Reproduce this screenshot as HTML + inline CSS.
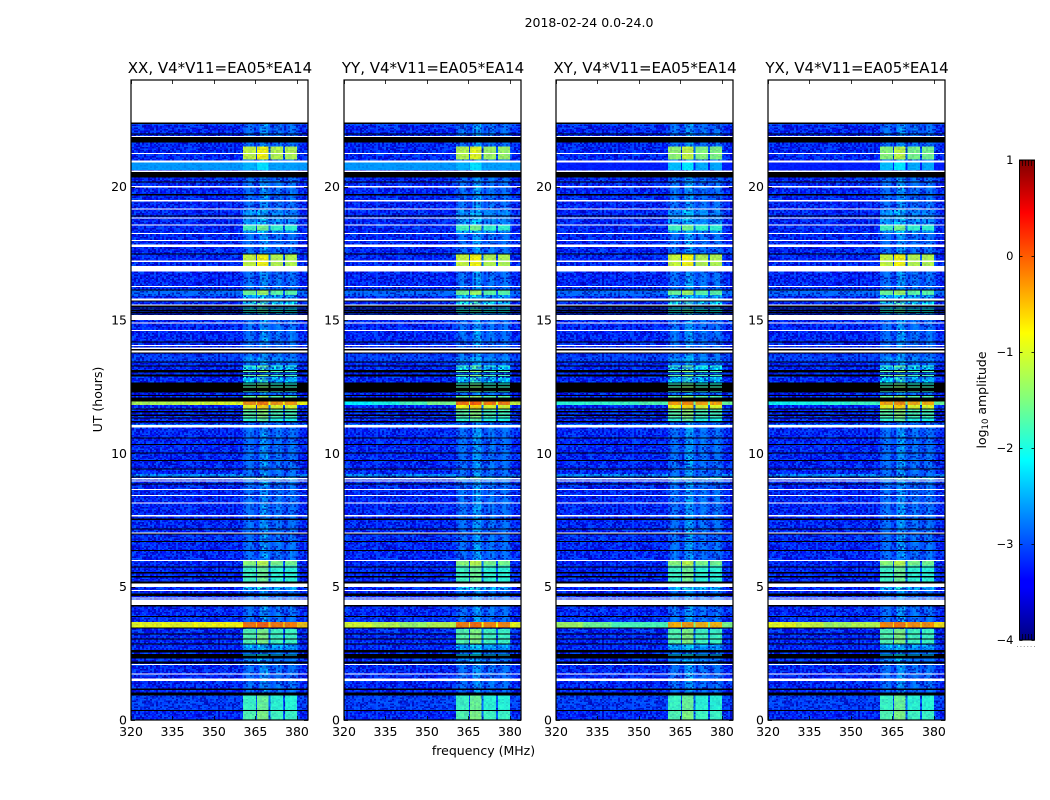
<!DOCTYPE html>
<html lang="en">
<head>
<meta charset="utf-8">
<title>2018-02-24 0.0-24.0</title>
<style>
html,body{margin:0;padding:0;background:#fff;width:1050px;height:800px;overflow:hidden}
svg{display:block}
text{font-family:"DejaVu Sans","Liberation Sans",sans-serif;fill:#000}
.tick{font-size:12.5px}
.title{font-size:15px}
</style>
</head>
<body>
<svg id="figure" xmlns="http://www.w3.org/2000/svg" width="1050" height="800" viewBox="0 0 1050 800">
  <defs>
    <linearGradient id="jet" x1="0" y1="1" x2="0" y2="0">
      <stop offset="0" stop-color="#00007f"/>
      <stop offset="0.11" stop-color="#0000ff"/>
      <stop offset="0.125" stop-color="#0000ff"/>
      <stop offset="0.375" stop-color="#00ffff"/>
      <stop offset="0.5" stop-color="#7fff7f"/>
      <stop offset="0.64" stop-color="#ffff00"/>
      <stop offset="0.89" stop-color="#ff0000"/>
      <stop offset="1" stop-color="#7f0000"/>
    </linearGradient>
    <pattern id="speckle-tile" patternUnits="userSpaceOnUse" width="128" height="72"></pattern>
  </defs>
  <text x="589" y="27" text-anchor="middle" font-size="12.5px">2018-02-24 0.0-24.0</text>
  <g id="panels"></g>
  <text x="483.5" y="755" text-anchor="middle" font-size="12.5px">frequency (MHz)</text>
  <text transform="translate(102,399.5) rotate(-90)" text-anchor="middle" font-size="12.5px">UT (hours)</text>
  <g id="colorbar"></g>
  <text transform="translate(986,400) rotate(-90)" text-anchor="middle" font-size="12.5px">log<tspan font-size="8.5px" dy="2">10</tspan><tspan dy="-2"> amplitude</tspan></text>
</svg>
<script>
// ---- chart data (log10 amplitude, UT hours, MHz) ----
const panelTitles = ['XX, V4*V11=EA05*EA14','YY, V4*V11=EA05*EA14','XY, V4*V11=EA05*EA14','YX, V4*V11=EA05*EA14'];
const freqTicks = [320,335,350,365,380];
const utTicks = [0,5,10,15,20];
const cbarTicks = [1,0,-1,-2,-3,-4];
const cbarMinorFractions = [0.2,0.4,0.6,0.8];
const spectralWindows = [[360.5,365.2],[365.5,369.8],[370.5,374.9],[375.6,380]];
const windowGain = [-0.12,0.12,-0.2,-0.22];
const quietFreq = [360.5,361.5,362.5,363.5,364.5,365.5,366.5,367.5,368.5,369.5,370.5,371.5,372.5,373.5,374.5,375.5,376.5,377.5,378.5,379.5,380.5];
const quietLevels = [-2.95,-2.8,-2.7,-2.8,-3.05,-3.15,-2.55,-2.42,-2.42,-2.8,-3.05,-2.85,-2.7,-2.7,-2.95,-3.05,-2.85,-2.7,-2.75,-2.95,-3.25];
const baseLevel = -3.27;
const dataTop = 22.4;
// shared row level changes: [UT top, UT bottom, log10 amplitude]
const baseBands = [[22.347,22.31,-2.95],[16.1,15.9,-2.8],[9.22,9.12,-2.5],[11.1,11.06,-2.6],[12.27,12.19,-3.5],[13.7,13.45,-3.1],[6.95,6.72,-3.2],[3.9,3.68,-3.2],[0.91,0.37,-3.1]];
const windowBands = [
  [19.12,18.92,-2.4],[18.885,18.547,-2.35],[18.547,18.347,-1.65],[18.347,18.26,-2.3],
  [17.46,17.02,-1.0],[16.097,15.93,-1.45],[15.93,15.8,-2.2],[15.685,15.585,-1.9],[15.47,15.2,-2.1],
  [13.25,13.12,-1.9],[13.6,13.45,-2.4],[12.87,12.65,-2.0],[12.15,12.1,-1.5],[11.81,11.69,-0.8],
  [11.648,11.585,-1.5],[11.523,11.46,-1.55],[11.398,11.335,-1.6],[11.298,11.21,-1.8],
  [9.12,9.0,-1.9],[5.96,5.8,-1.3],[5.8,5.19,-1.7],[4.99,4.87,-2.1],[3.42,2.87,-1.6],[2.83,2.62,-2.2],
  [2.3,2.19,-2.5],[0.91,0.37,-1.7],[0.336,0,-1.6]
];
// short bright window segments that survive inside low-amplitude rows
const windowDashes = [[15.4,15.37,-1.9],[15.33,15.31,-1.9],[13.29,13.26,-1.6],[13.08,13.05,-1.5],[12.93,12.9,-1.5],[12.62,12.59,-1.8],[12.5,12.47,-1.6],[12.34,12.31,-1.7],[2.45,2.42,-2.2]];
// per-panel RFI levels, index order XX, YY, XY, YX
const coolBandLevels = [-2.6,-2.6,-3.25,-3.25];
const coolBandWindow = [-2.35,-2.35,-2.3,-2.3];
const rfi21Levels = [-1.0,-1.1,-1.25,-1.3];
const broadbandFreq = [320,330,340,350,360.5];
const rfi12Base = [[-1.25,-1.2,-1.1,-1.0,-0.95],[-2.15,-2.0,-1.75,-1.5,-1.25],[-1.9,-1.85,-1.8,-1.7,-1.6],[-2.05,-2.0,-1.9,-1.8,-1.6]];
const rfi12Window = [-0.3,-0.15,-0.35,-0.4];
const rfi12Edge = [-0.9,-1.1,-1.6,-1.6];
const rfi3Base = [[-0.95,-0.95,-0.9,-0.85,-0.8],[-1.05,-1.2,-1.35,-1.2,-1.0],[-1.3,-1.55,-1.75,-1.75,-1.55],[-0.95,-1.1,-1.3,-1.2,-0.9]];
const rfi3Window = [-0.15,-0.2,-0.45,-0.25];
const rfi3Edge = [-0.6,-0.95,-1.5,-0.75];
// very low amplitude rows (under the colour scale, drawn black)
const lowRows = [[22.397,22.347],[21.997,21.96],[21.86,21.647],[20.547,20.347],[20.185,20.147],[19.722,19.672],[18.922,18.885],[17.497,17.46],[16.147,16.097],[15.735,15.685],[15.547,15.472],[15.43,15.4],[15.37,15.33],[15.31,15.27],[15.24,15.2],
 [14.186,14.148],[13.91,13.848],[13.773,13.748],[13.436,13.398],[13.298,13.248],[13.123,13.023],[12.96,12.873],[12.648,12.273],[12.186,12.148],[12.098,11.935],[11.686,11.648],[11.585,11.523],[11.46,11.398],[11.335,11.298],[11.21,11.148],[10.6,10.56],[10.348,10.31],[10.023,9.985],[9.748,9.71],[9.435,9.398],[9.123,9.085],[8.873,8.835],[7.56,7.5],
 [7.187,7.149],[6.987,6.949],[6.711,6.674],[6.374,6.336],[5.749,5.711],[5.549,5.499],[5.399,5.349],[5.186,5.124],[4.749,4.649],[4.311,4.249],[3.899,3.861],[3.461,3.424],[3.249,3.211],[3.061,3.024],[2.874,2.836],[2.624,2.524],[2.474,2.311],[2.186,2.124],[1.186,1.124],[1.036,0.911],[0.374,0.336]];
// flagged rows (no data, drawn white)
const flaggedRows = [[21.897,21.86],[21.26,21.22],[20.985,20.897],[20.597,20.547],[20.022,19.96],[19.497,19.435],[19.185,19.147],[18.835,18.797],[18.585,18.547],[18.26,18.222],[17.997,17.96],[17.835,17.735],[17.235,17.172],[17.022,16.81],[16.272,16.235],[15.797,15.735],[15.585,15.547],[15.185,14.997],[14.91,14.872],
 [14.623,14.585],[14.06,14.023],[13.96,13.91],[13.848,13.773],[11.06,10.96],[9.073,9.023],[8.973,8.935],[8.66,8.62],[8.435,8.398],[8.148,8.11],[7.686,7.623],
 [7.024,6.987],[5.999,5.96],[5.124,4.986],[4.874,4.836],[4.586,4.549],[4.524,4.31],[2.1,2.06],[1.749,1.71],[1.549,1.46]];
// hand-written speckle texture for receiver noise
const speckle = [5,-7,2,8,-3,-8,6,1,-5,9,-2,4,-9,3,7,-6,0,8,-4,5,-8,2,-1,9,-6,4,7,-3,-9,1,6,-5,8,-2,3,-7,9,0,-4,5,-8,7,-1,2,-6,8,-3,4,-9,6,1,-7,5,-2,9,-5,3,8,-8,0,4,-6,7,-3,2,9,-9,5,-1,6,-7,3,8,-4,1,-8,7,-2,5,-6,9,0,-3,4,-9,8,2,-5,6,-1,7,-7,3,-4,9,-8,1,5,-2,6,-6,8,4,-9,0,7,-3,2,-5,9,-1,6,-8,3,-7,5,8,-4,1,-2,7,-9,4,-6];

// ---- axes ----
const NS = 'http://www.w3.org/2000/svg';
const panelLeft = [131,344,556,768];
const axisWidth = 177, axisTop = 80, axisBottom = 720;
const faintWindowLimit = -1.8;
const freqToX = (f, left) => left + (f - 320) * axisWidth / 64;
const utToY = ut => axisBottom - ut * (axisBottom - axisTop) / 24;
const logToY = v => 640 - (v + 4) * 96;
function jet(log) {
  const v = (log + 4) / 5;
  const c = t => Math.round(255 * Math.max(0, Math.min(1, t)));
  return `rgb(${c(Math.min(4*v-1.5,-4*v+4.5))},${c(Math.min(4*v-0.5,-4*v+3.5))},${c(Math.min(4*v+0.5,-4*v+2.5))})`;
}
function svgEl(parent, tag, attrs) {
  const el = document.createElementNS(NS, tag);
  for (const k in attrs) el.setAttribute(k, attrs[k]);
  parent.appendChild(el);
  return el;
}
function cell(parent, left, f0, f1, utA, utB, fill, name) {
  const x0 = freqToX(f0, left), x1 = freqToX(f1, left);
  const y0 = utToY(Math.max(utA, utB)), y1 = utToY(Math.min(utA, utB));
  const r = svgEl(parent, 'rect', {x: x0, y: y0, width: x1 - x0, height: y1 - y0, fill: fill, 'shape-rendering': 'crispEdges'});
  
  
  return r;
}

// speckle tile
const tile = document.getElementById('speckle-tile');
for (let i = 0; i < 64; i++) {
  for (let j = 0; j < 48; j++) {
    const s = speckle[(i * 31 + j * 47 + ((i * j) >> 2)) % speckle.length];
    if (Math.abs(s) < 2) continue;
    svgEl(tile, 'rect', {x: i * 2, y: j * 1.5, width: 2, height: 1.5,
      fill: s > 0 ? '#0068ff' : '#0000a8', 'fill-opacity': (Math.abs(s) / 9 * 0.75).toFixed(2), 'shape-rendering': 'crispEdges'});
  }
}

const panelsGroup = document.getElementById('panels');
panelTitles.forEach((title, p) => {
  const left = panelLeft[p];
  const g = svgEl(panelsGroup, 'g', {});
  
  
  const heat = svgEl(g, 'g', {});
  
  

  const drawWindows = (a, b, level) => spectralWindows.forEach((w, k) =>
    cell(heat, left, w[0], w[1], a, b, jet(level + windowGain[k]), 'window-cell'));

  cell(heat, left, 320, 384, 0, dataTop, jet(baseLevel), 'quiet-background');
  for (let i = 0; i < quietLevels.length; i++) {
    const f1 = i + 1 < quietFreq.length ? quietFreq[i + 1] : quietFreq[i] + 0.5;
    cell(heat, left, quietFreq[i], f1, 0, dataTop, jet(quietLevels[i]), 'quiet-channel');
  }
  baseBands.forEach(b => cell(heat, left, 320, 360.5, b[0], b[1], jet(b[2]), 'base-band'));
  baseBands.forEach(b => cell(heat, left, 380, 384, b[0], b[1], jet(b[2]), 'base-band-edge'));
  windowBands.filter(b => b[2] < faintWindowLimit).forEach(b => drawWindows(b[0], b[1], b[2]));

  const noise = svgEl(heat, 'rect', {x: left, y: utToY(dataTop), width: axisWidth, height: axisBottom - utToY(dataTop), fill: 'url(#speckle-tile)'});
  
  

  cell(heat, left, 320, 384, 20.897, 20.62, jet(coolBandLevels[p]), 'cool-band');
  windowBands.filter(b => b[2] >= faintWindowLimit).forEach(b => drawWindows(b[0], b[1], b[2]));
  drawWindows(20.897, 20.62, coolBandWindow[p]);
  drawWindows(21.497, 21.02, rfi21Levels[p]);
  // strong broadband RFI rows
  const strong = (a, b, base, win, edge) => {
    base.forEach((lv, k) => cell(heat, left, broadbandFreq[k], k + 1 < base.length ? broadbandFreq[k + 1] : 360.5, a, b, jet(lv), 'rfi-band'));
    cell(heat, left, 360.5, 384, a, b, jet(edge), 'rfi-band-edge');
    spectralWindows.forEach((w, k) => cell(heat, left, w[0], w[1], a, b, jet(win + windowGain[k] * 0.4), 'rfi-window'));
  };
  strong(11.94, 11.81, rfi12Base[p], rfi12Window[p], rfi12Edge[p]);
  strong(3.68, 3.46, rfi3Base[p], rfi3Window[p], rfi3Edge[p]);

  const fineNoise = svgEl(heat, 'rect', {x: left, y: utToY(dataTop), width: axisWidth, height: axisBottom - utToY(dataTop), fill: 'url(#speckle-tile)', opacity: 0.22});
  
  

  lowRows.forEach(r => cell(heat, left, 320, 384, r[0], r[1], '#000', 'low-amplitude-row'));
  windowDashes.forEach(d => drawWindows(d[0], d[1], d[2]));
  flaggedRows.forEach(r => cell(heat, left, 320, 384, r[0], r[1], '#fff', 'flagged-row'));

  const frame = svgEl(g, 'rect', {x: left, y: axisTop, width: axisWidth, height: axisBottom - axisTop, fill: 'none', stroke: '#000', 'stroke-width': 1.2});
  
  

  freqTicks.forEach(f => {
    const x = Math.round(freqToX(f, left)) + 0.5;
    [[axisBottom, axisBottom - 4], [axisTop, axisTop + 4]].forEach(t => {
      const l = svgEl(g, 'line', {x1: x, x2: x, y1: t[0], y2: t[1], stroke: '#000', 'stroke-width': 0.8});
      
      
    });
    const lab = svgEl(g, 'text', {x: freqToX(f, left), y: 736, 'text-anchor': 'middle', class: 'tick'});
    
    
    lab.textContent = f;
  });
  utTicks.forEach(u => {
    const y = Math.round(utToY(u)) + 0.5;
    [[left, left + 4], [left + axisWidth, left + axisWidth - 4]].forEach(t => {
      const l = svgEl(g, 'line', {x1: t[0], x2: t[1], y1: y, y2: y, stroke: '#000', 'stroke-width': 0.8});
      
      
    });
    const lab = svgEl(g, 'text', {x: left - 4, y: utToY(u) + 4.5, 'text-anchor': 'end', class: 'tick'});
    
    
    lab.textContent = u;
  });
  const t = svgEl(g, 'text', {x: left + axisWidth / 2 + 0.5, y: 73, 'text-anchor': 'middle', class: 'title'});
  
  
  t.textContent = title;
});

// colour bar
const cbar = document.getElementById('colorbar');
const barX = 1019.5, barW = 15;
const bar = svgEl(cbar, 'rect', {x: barX, y: logToY(1), width: barW, height: logToY(-4) - logToY(1), fill: 'url(#jet)', stroke: '#000', 'stroke-width': 1});


cbarTicks.forEach(v => {
  const y = Math.round(logToY(v)) + 0.5;
  [[barX, barX + 3], [barX + barW, barX + barW - 3]].forEach(t => {
    const l = svgEl(cbar, 'line', {x1: t[0], x2: t[1], y1: y, y2: y, stroke: '#000', 'stroke-width': 0.8});
    
    
  });
  const lab = svgEl(cbar, 'text', {x: barX - 6, y: logToY(v) + 4, 'text-anchor': 'end', 'font-size': '11.5px'});
  
  
  lab.textContent = (v < 0 ? '\u2212' + (-v) : String(v));
  if (v === 1 || v === -4) {
    cbarMinorFractions.forEach(fr => {
      const m = svgEl(cbar, 'line', {x1: barX + barW * fr, x2: barX + barW * fr, y1: logToY(v), y2: logToY(v) + (v === 1 ? 6 : -6), stroke: '#000', 'stroke-width': 0.7});
      
      
    });
  }
});
const dots = svgEl(cbar, 'line', {x1: 1017, x2: 1035, y1: 646.5, y2: 646.5, stroke: '#999', 'stroke-width': 1, 'stroke-dasharray': '1 2.4'});


</script>
</body>
</html>
